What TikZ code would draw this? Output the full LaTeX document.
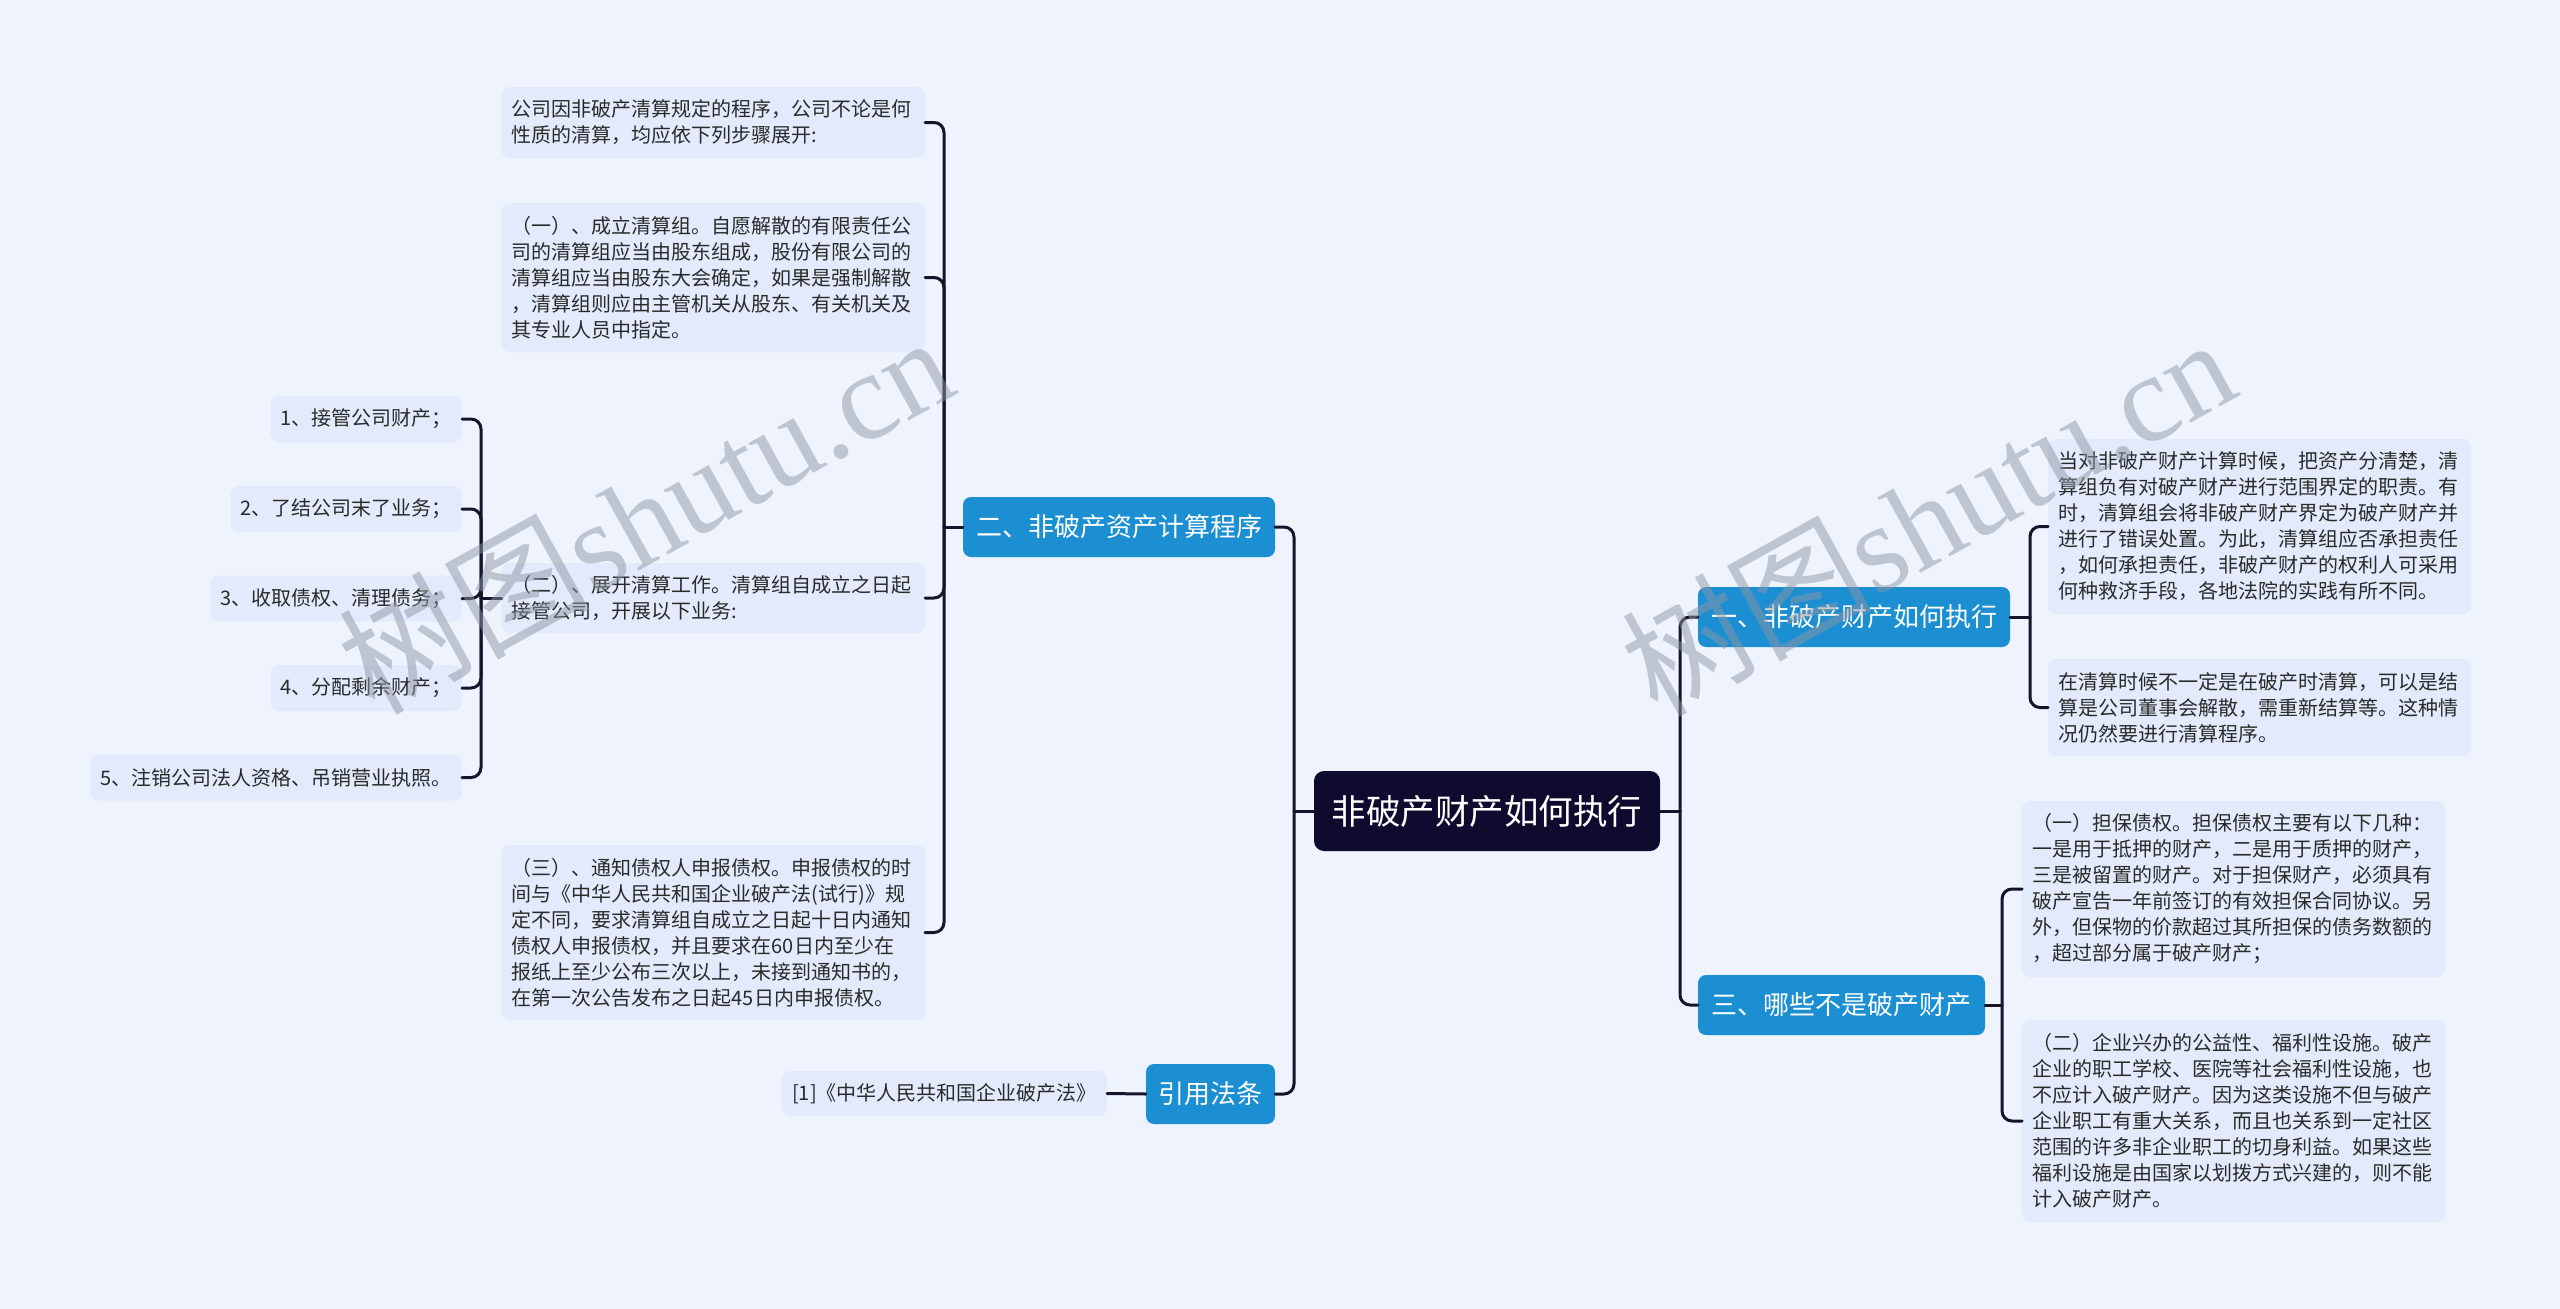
\documentclass[tikz,border=0pt]{standalone}
\usepackage{fontspec}
\setmainfont{Noto Sans CJK SC}
\newfontfamily\wmserif{Liberation Serif}

\definecolor{bg}{HTML}{EEF3FD}
\definecolor{leaffill}{HTML}{E2EAFB}
\definecolor{branchfill}{HTML}{1B8FD2}
\definecolor{rootfill}{HTML}{0E0B2E}
\definecolor{linec}{HTML}{16142C}
\definecolor{txt}{HTML}{2A2A2A}
\definecolor{wm}{HTML}{8F96A5}

\begin{document}
\begin{tikzpicture}[x=1pt,y=-1pt,
  leaf/.style={fill=leaffill, rounded corners=8pt, text=txt, align=left,
    inner xsep=10pt, inner ysep=0pt, font=\fontsize{20}{26}\selectfont},
  bigleaf/.style={leaf, text width=403pt},
  oneleaf/.style={leaf, minimum height=46pt},
  branch/.style={fill=branchfill, rounded corners=8pt, text=white, inner sep=0pt,
    minimum height=60pt, font=\fontsize{26}{30}\selectfont},
  rootbox/.style={fill=rootfill, rounded corners=10pt, text=white, inner sep=0pt,
    minimum width=346pt, minimum height=80pt, font=\fontsize{34.5}{40}\selectfont},
  conn/.style={draw=linec, line width=3pt, rounded corners=10pt, line cap=round},
  wmark/.style={rotate=29, text=wm, opacity=0.5, inner sep=0pt,
    font=\fontsize{125}{125}\selectfont}
]
\useasboundingbox (0,0) rectangle (2560,1309);
\fill[bg] (0,0) rectangle (2560,1309);

% root
\node[rootbox] (root) at (1487,811) {非破产财产如何执行};

% branches
\node[branch, minimum width=312pt] (b2) at (1119,527) {二、非破产资产计算程序};
\node[branch, minimum width=129pt] (b4) at (1210.5,1094) {引用法条};
\node[branch, minimum width=312pt] (b1) at (1854,617) {一、非破产财产如何执行};
\node[branch, minimum width=287pt] (b3) at (1841.5,1005) {三、哪些不是破产财产};

% left column
\node[bigleaf, minimum height=71pt, anchor=east] (A) at (925,122.5) {公司因非破产清算规定的程序，公司不论是何\\性质的清算，均应依下列步骤展开:};
\node[bigleaf, minimum height=149pt, anchor=east] (B) at (925,277.5) {（一）、成立清算组。自愿解散的有限责任公\\司的清算组应当由股东组成，股份有限公司的\\清算组应当由股东大会确定，如果是强制解散\\，清算组则应由主管机关从股东、有关机关及\\其专业人员中指定。};
\node[bigleaf, minimum height=70pt, anchor=east] (C) at (925,598) {（二）、展开清算工作。清算组自成立之日起\\接管公司，开展以下业务:};
\node[bigleaf, minimum height=175pt, anchor=east] (D) at (925,932.5) {（三）、通知债权人申报债权。申报债权的时\\间与《中华人民共和国企业破产法(试行)》规\\定不同，要求清算组自成立之日起十日内通知\\债权人申报债权，并且要求在60日内至少在\\报纸上至少公布三次以上，未接到通知书的，\\在第一次公告发布之日起45日内申报债权。};

% leaves of C
\node[oneleaf, anchor=east] (L1) at (462,419) {1、接管公司财产；};
\node[oneleaf, anchor=east] (L2) at (462,509) {2、了结公司末了业务；};
\node[oneleaf, anchor=east] (L3) at (462,598.5) {3、收取债权、清理债务；};
\node[oneleaf, anchor=east] (L4) at (462,688) {4、分配剩余财产；};
\node[oneleaf, anchor=east] (L5) at (462,777.5) {5、注销公司法人资格、吊销营业执照。};

% reference
\node[oneleaf, minimum height=45pt, anchor=east] (ref) at (1107,1093.5) {[1]《中华人民共和国企业破产法》};

% right side
\node[bigleaf, minimum height=175pt, anchor=west] (E) at (2048,526.5) {当对非破产财产计算时候，把资产分清楚，清\\算组负有对破产财产进行范围界定的职责。有\\时，清算组会将非破产财产界定为破产财产并\\进行了错误处置。为此，清算组应否承担责任\\，如何承担责任，非破产财产的权利人可采用\\何种救济手段，各地法院的实践有所不同。};
\node[bigleaf, minimum height=97pt, anchor=west] (F) at (2048,707.5) {在清算时候不一定是在破产时清算，可以是结\\算是公司董事会解散，需重新结算等。这种情\\况仍然要进行清算程序。};
\node[bigleaf, minimum height=176pt, anchor=west] (G) at (2022,889) {（一）担保债权。担保债权主要有以下几种：\\一是用于抵押的财产，二是用于质押的财产，\\三是被留置的财产。对于担保财产，必须具有\\破产宣告一年前签订的有效担保合同协议。另\\外，但保物的价款超过其所担保的债务数额的\\，超过部分属于破产财产；};
\node[bigleaf, minimum height=202pt, anchor=west] (H) at (2022,1121) {（二）企业兴办的公益性、福利性设施。破产\\企业的职工学校、医院等社会福利性设施，也\\不应计入破产财产。因为这类设施不但与破产\\企业职工有重大关系，而且也关系到一定社区\\范围的许多非企业职工的切身利益。如果这些\\福利设施是由国家以划拨方式兴建的，则不能\\计入破产财产。};

% junctions
\coordinate (jr) at (1294,811);
\coordinate (jR) at (1680,811);
\coordinate (j2) at (944,527);
\coordinate (jc) at (481,598);
\coordinate (j1) at (2030,617);
\coordinate (j3) at (2002,1005);

% connectors
\draw[conn] (root.west) -- (jr);
\draw[conn] (jr) |- (b2.east);
\draw[conn] (jr) |- (b4.east);
\draw[conn] (root.east) -- (jR);
\draw[conn] (jR) |- (b1.west);
\draw[conn] (jR) |- (b3.west);
\draw[conn] (b2.west) -- (j2);
\foreach \n in {A,B,C,D} \draw[conn] (j2) |- (\n.east);
\draw[conn] (C.west) -- (jc);
\foreach \n in {L1,L2,L3,L4,L5} \draw[conn] (jc) |- (\n.east);
\draw[conn] (b4.west) -- (ref.east);
\draw[conn] (b1.east) -- (j1);
\draw[conn] (j1) |- (E.west);
\draw[conn] (j1) |- (F.west);
\draw[conn] (b3.east) -- (j3);
\draw[conn] (j3) |- (G.west);
\draw[conn] (j3) |- (H.west);

% watermarks
\node[wmark] (wm1) at (645,513) {树图{\wmserif shutu.cn}};
\node[wmark] (wm2) at (1927,515) {树图{\wmserif shutu.cn}};
\end{tikzpicture}
\end{document}
